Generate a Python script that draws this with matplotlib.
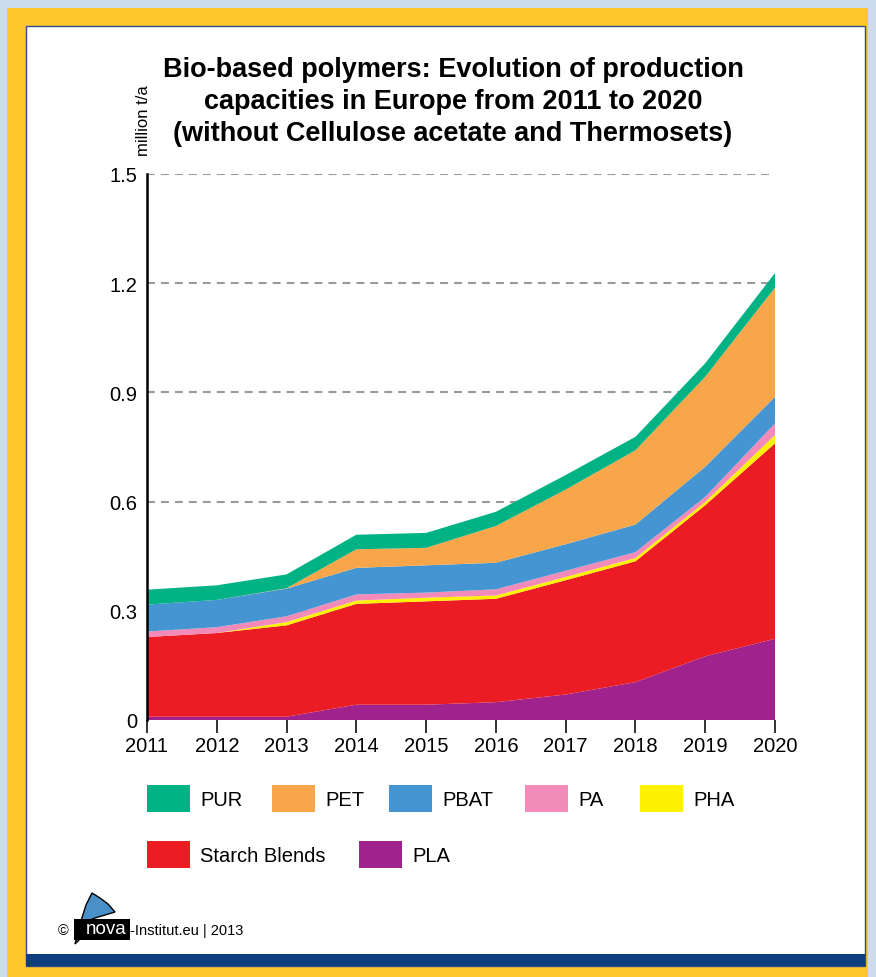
import numpy as np
import matplotlib
matplotlib.use('Agg')
import matplotlib.pyplot as plt
from matplotlib.patches import Rectangle, Polygon

plt.rcParams['font.family'] = ['Liberation Sans', 'DejaVu Sans']

# capacities in million t/a (layer thickness per polymer)
years = [2011, 2012, 2013, 2014, 2015, 2016, 2017, 2018, 2019, 2020]
pla = [0.009, 0.009, 0.009, 0.042, 0.042, 0.049, 0.070, 0.104, 0.175, 0.223]
starch = [0.219, 0.230, 0.251, 0.277, 0.284, 0.284, 0.314, 0.332, 0.415, 0.537]
pha = [0.000, 0.000, 0.009, 0.009, 0.010, 0.009, 0.009, 0.009, 0.009, 0.023]
pa = [0.015, 0.016, 0.016, 0.017, 0.014, 0.017, 0.017, 0.016, 0.014, 0.032]
pbat = [0.074, 0.075, 0.076, 0.073, 0.075, 0.073, 0.073, 0.076, 0.083, 0.073]
pet = [0.000, 0.000, 0.001, 0.051, 0.048, 0.101, 0.150, 0.204, 0.247, 0.300]
pur = [0.041, 0.040, 0.038, 0.040, 0.041, 0.039, 0.040, 0.037, 0.037, 0.040]

series = ['PLA', 'Starch Blends', 'PHA', 'PA', 'PBAT', 'PET', 'PUR']
colors = {'PUR': '#00b284', 'PET': '#f9a64a', 'PBAT': '#4495d1', 'PA': '#f28bb9',
          'PHA': '#fff200', 'Starch Blends': '#ec1c24', 'PLA': '#a0228d'}
legend_rows = [['PUR', 'PET', 'PBAT', 'PA', 'PHA'], ['Starch Blends', 'PLA']]
yticks = [0, 0.3, 0.6, 0.9, 1.2, 1.5]
ytick_labels = ['0', '0.3', '0.6', '0.9', '1.2', '1.5']

W, H = 876, 978
fig = plt.figure(figsize=(W / 100, H / 100), dpi=100)
fig.patch.set_facecolor('#c9dcf0')

# background frame, drawn in pixel coords
bg = fig.add_axes([0, 0, 1, 1]); bg.set_xlim(0, W); bg.set_ylim(H, 0); bg.axis('off')
bg.add_patch(Rectangle((7, 9), 861, 969, fc='#fec82b', ec='none'))
bg.add_patch(Rectangle((26, 27), 839, 940, fc='white', ec='#2b4c8c', lw=1))
bg.add_patch(Rectangle((26, 955), 839, 12, fc='#0f3d7e', ec='none'))

# legend
leg_x = [[147, 272, 389, 525, 640], [147, 359]]
leg_y = [786, 842]
for row, xs, y in zip(legend_rows, leg_x, leg_y):
    for name, x in zip(row, xs):
        bg.add_patch(Rectangle((x, y), 43, 27, fc=colors[name], ec='none'))
        bg.text(x + 53, y + 14, name, fontsize=14.5, va='center', ha='left')

# nova logo + copyright
bg.add_patch(Polygon([(75, 945), (80, 925), (86, 906), (92, 894), (100, 899),
                      (108, 905), (115, 913), (105, 916), (95, 919), (88, 922),
                      (80, 940)],
                     closed=True, fc='#4a90c8', ec='black', lw=1))
bg.add_patch(Rectangle((74, 920), 56, 21, fc='black', ec='none'))
bg.text(58, 931, '©', fontsize=10.5, va='center', ha='left')
bg.text(106, 929, 'nova', fontsize=13.5, color='white', va='center', ha='center')
bg.text(130, 931, '-Institut.eu | 2013', fontsize=10.5, va='center', ha='left')

# title and unit
fig.text(453 / W, 1 - 102 / H,
         'Bio-based polymers: Evolution of production\n'
         'capacities in Europe from 2011 to 2020\n'
         '(without Cellulose acetate and Thermosets)',
         ha='center', va='center', fontsize=19.5, fontweight='bold', linespacing=1.28)
fig.text(143 / W, 1 - 121 / H, 'million t/a', rotation=90, ha='center', va='center',
         fontsize=12)

# main chart
ax = fig.add_axes([147 / W, 1 - 721 / H, 628 / W, 546 / H])
ax.patch.set_alpha(0)
data = {'PLA': pla, 'Starch Blends': starch, 'PHA': pha, 'PA': pa, 'PBAT': pbat,
        'PET': pet, 'PUR': pur}
ax.stackplot(years, *[data[s] for s in series], colors=[colors[s] for s in series],
             lw=0, zorder=2)
ax.set_xlim(years[0], years[-1]); ax.set_ylim(0, 1.5)
ax.set_xticks(years)
ax.set_yticks(yticks); ax.set_yticklabels(ytick_labels)
ax.yaxis.grid(True, ls=(0, (3.8, 2.9)), color='#9a9a9a', lw=1.5, zorder=1)
ax.set_axisbelow(True)
for s in ('top', 'right', 'bottom'):
    ax.spines[s].set_visible(False)
ax.spines['left'].set_linewidth(1.8); ax.spines['left'].set_zorder(3)
ax.tick_params(axis='x', direction='out', length=9.5, width=1.3, color='#222222',
               labelsize=14.5, pad=2)
ax.tick_params(axis='y', length=0, labelsize=14.5, pad=7)

fig.savefig('out.png', dpi=100, facecolor=fig.get_facecolor())
